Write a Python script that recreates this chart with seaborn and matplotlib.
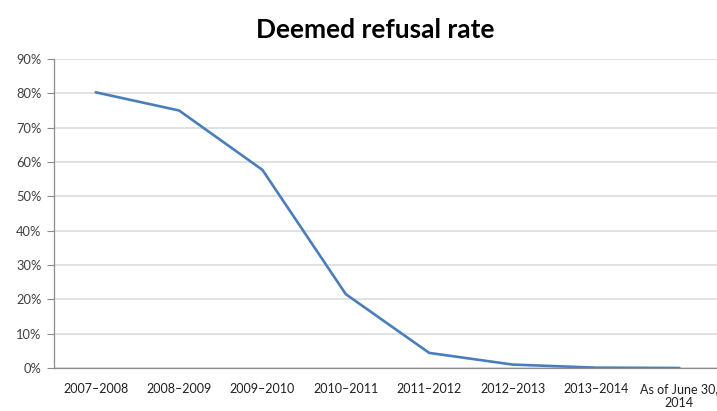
import pandas as pd
import matplotlib.pyplot as plt
import seaborn as sns
from matplotlib.ticker import PercentFormatter

# Data
periods = ['2007–2008', '2008–2009', '2009–2010', '2010–2011',
           '2011–2012', '2012–2013', '2013–2014', 'As of June 30,\n2014']
refusal_rate = [0.803, 0.750, 0.577, 0.215, 0.044, 0.010, 0.001, 0.0]
y_ticks = [0.0, 0.1, 0.2, 0.3, 0.4, 0.5, 0.6, 0.7, 0.8, 0.9]

df = pd.DataFrame({'period': periods, 'rate': refusal_rate})

sns.set_style('white')
plt.rcParams['font.family'] = ['Lato', 'DejaVu Sans']

fig = plt.figure(figsize=(7.17, 4.11), dpi=100)
ax = fig.add_axes([54 / 717, 43 / 411, 667 / 717, 309 / 411])

sns.lineplot(data=df, x='period', y='rate', sort=False, color='#4A7EBB',
             linewidth=1.9, ax=ax)

ax.set_xlim(-0.5, 7.5)
ax.set_ylim(0, 0.9)
ax.set_yticks(y_ticks)
ax.yaxis.set_major_formatter(PercentFormatter(1.0, decimals=0))
ax.grid(axis='y', color='#D9D9D9', linewidth=1.1)
ax.set_axisbelow(True)

for side in ['top', 'right']:
    ax.spines[side].set_visible(False)
for side in ['left', 'bottom']:
    ax.spines[side].set_color('#8C8C8C')
    ax.spines[side].set_linewidth(0.9)

ax.tick_params(axis='y', length=5, color='#8C8C8C', labelsize=9.3,
               labelcolor='#404040', pad=4, left=True)
ax.tick_params(axis='x', length=0, labelsize=9.0, labelcolor='#202020', pad=11)
ax.set_xlabel('')
ax.set_ylabel('')

fig.text(375 / 717, 1 - 30 / 411, 'Deemed refusal rate', ha='center', va='center',
         fontsize=19, fontweight='bold', color='black')

fig.savefig('out.png', dpi=100)
